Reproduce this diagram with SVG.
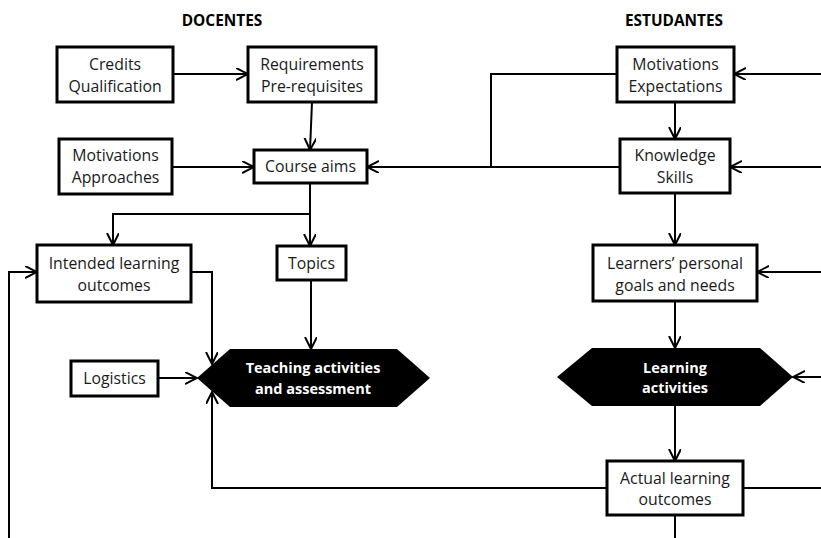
<svg xmlns="http://www.w3.org/2000/svg" width="821" height="538" viewBox="0 0 821 538">
  <defs>
    <marker id="arrow" markerUnits="userSpaceOnUse" markerWidth="14" markerHeight="14" refX="12" refY="6" orient="auto">
      <path d="M0,0 L12,6 L0,12" fill="none" stroke="#000" stroke-width="2"/>
    </marker>
    <style>
      .box { fill: #fff; stroke: #000; stroke-width: 3; }
      .hex { fill: #000; stroke: none; }
      .lbl { font-family: "Open Sans", "Noto Sans", sans-serif; font-size: 15.8px; fill: #1a1a1a; text-anchor: middle; }
      .hlbl { font-family: "Open Sans", "Noto Sans", sans-serif; font-size: 14.5px; font-weight: bold; fill: #fff; text-anchor: middle; }
      .title { font-family: "Open Sans", "Noto Sans", sans-serif; font-size: 15.4px; font-weight: bold; fill: #000; text-anchor: middle; }
      .conn path { fill: none; stroke: #000; stroke-width: 2; }
      .conn path.arr { marker-end: url(#arrow); }
    </style>
  </defs>
  <rect width="821" height="538" fill="#fff"/>

  <!-- column headings -->
  <text class="title" x="222" y="26">DOCENTES</text>
  <text class="title" x="674" y="26">ESTUDANTES</text>

  <!-- connectors -->
  <g id="connectors" class="conn">
    <path class="arr" d="M173,74 H248"/>
    <path class="arr" d="M312,102 L310,150"/>
    <path class="arr" d="M172,167 H254"/>
    <path class="arr" d="M620,167 H367"/>
    <path d="M617,74 H491 V167"/>
    <path class="arr" d="M310,183 V246"/>
    <path class="arr" d="M310,214 H113 V245"/>
    <path class="arr" d="M191,272 H212 V364"/>
    <path class="arr" d="M311,280 V349"/>
    <path class="arr" d="M158,378 H197"/>
    <path class="arr" d="M607,488 H212 V392"/>
    <path class="arr" d="M9,538 V272 H37"/>
    <path class="arr" d="M821,74 H734"/>
    <path class="arr" d="M821,167 H730"/>
    <path class="arr" d="M821,272 H757"/>
    <path class="arr" d="M821,377 H793"/>
    <path class="arr" d="M675,102 V139"/>
    <path class="arr" d="M675,193 V245"/>
    <path class="arr" d="M675,301 V348"/>
    <path class="arr" d="M675,406 V461"/>
    <path d="M743,488 H821"/>
    <path d="M675,515 V538"/>
  </g>

  <!-- DOCENTES column -->
  <g id="credits">
    <rect class="box" x="57" y="47" width="116" height="55"/>
    <text class="lbl" x="115" y="70">Credits</text>
    <text class="lbl" x="115" y="92">Qualification</text>
  </g>
  <g id="requirements">
    <rect class="box" x="248" y="47" width="128" height="55"/>
    <text class="lbl" x="312" y="70">Requirements</text>
    <text class="lbl" x="312" y="92">Pre-requisites</text>
  </g>
  <g id="motivations-approaches">
    <rect class="box" x="59" y="139" width="113" height="55"/>
    <text class="lbl" x="115.5" y="161">Motivations</text>
    <text class="lbl" x="115.5" y="183">Approaches</text>
  </g>
  <g id="course-aims">
    <rect class="box" x="254" y="150" width="113" height="33"/>
    <text class="lbl" x="310.5" y="172">Course aims</text>
  </g>
  <g id="intended-outcomes">
    <rect class="box" x="37" y="245" width="154" height="57"/>
    <text class="lbl" x="114" y="269">Intended learning</text>
    <text class="lbl" x="114" y="291">outcomes</text>
  </g>
  <g id="topics">
    <rect class="box" x="277" y="246" width="69" height="34"/>
    <text class="lbl" x="311.5" y="269">Topics</text>
  </g>
  <g id="logistics">
    <rect class="box" x="71" y="361" width="87" height="35"/>
    <text class="lbl" x="114.5" y="384">Logistics</text>
  </g>
  <g id="teaching">
    <polygon class="hex" points="197,378 230,349 397,349 430,378 397,407 230,407"/>
    <text class="hlbl" x="313" y="373">Teaching activities</text>
    <text class="hlbl" x="313" y="394">and assessment</text>
  </g>

  <!-- ESTUDANTES column -->
  <g id="motivations-expectations">
    <rect class="box" x="617" y="47" width="117" height="55"/>
    <text class="lbl" x="675.5" y="70">Motivations</text>
    <text class="lbl" x="675.5" y="92">Expectations</text>
  </g>
  <g id="knowledge-skills">
    <rect class="box" x="620" y="139" width="110" height="54"/>
    <text class="lbl" x="675" y="161">Knowledge</text>
    <text class="lbl" x="675" y="183">Skills</text>
  </g>
  <g id="personal-goals">
    <rect class="box" x="593" y="245" width="164" height="56"/>
    <text class="lbl" x="675" y="269">Learners’ personal</text>
    <text class="lbl" x="675" y="291">goals and needs</text>
  </g>
  <g id="learning-activities">
    <polygon class="hex" points="557,377 592,348 760,348 793,377 760,406 592,406"/>
    <text class="hlbl" x="675" y="373">Learning</text>
    <text class="hlbl" x="675" y="393">activities</text>
  </g>
  <g id="actual-outcomes">
    <rect class="box" x="607" y="461" width="136" height="54"/>
    <text class="lbl" x="675" y="484">Actual learning</text>
    <text class="lbl" x="675" y="505">outcomes</text>
  </g>
</svg>
